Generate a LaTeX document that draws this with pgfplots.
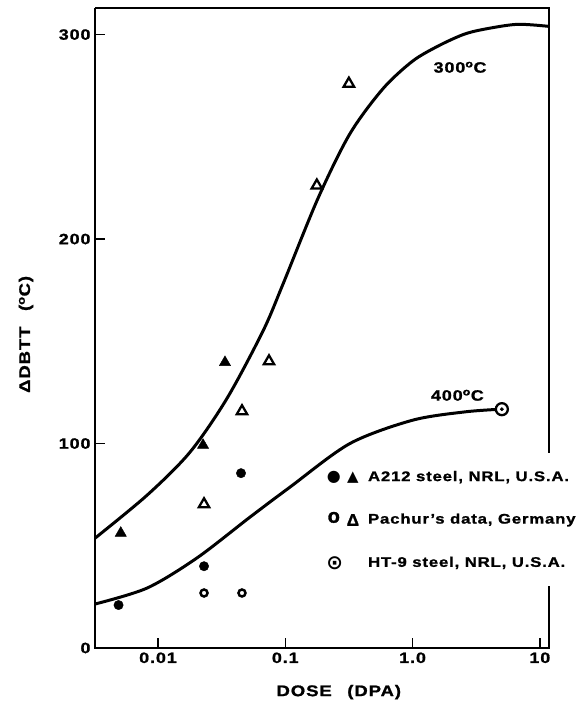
\documentclass[border=0pt]{standalone}
\usepackage{fontspec}
\setmainfont{Liberation Sans}[FakeStretch=1.2, LetterSpace=6, BoldFeatures={FakeBold=1.2}]
\newfontfamily\sym{DejaVu Sans}
\newfontfamily\plainsans{Liberation Sans}[BoldFeatures={FakeBold=1.5}]
\usepackage{pgfplots}
\pgfplotsset{compat=1.18}
\begin{document}
\begin{tikzpicture}
\path[use as bounding box] (0,0) rectangle (583bp,706bp);
\begin{axis}[
  at={(95bp,58bp)}, anchor=south west,
  width=454bp, height=640bp, scale only axis,
  xmode=log, xmin=0.0032, xmax=11.8, ymin=0, ymax=313,
  axis line style={draw=none},
  xtick={0.01,0.1,1,10}, xticklabels={0.01,0.1,1.0,10},
  ytick={0,100,200,300}, yticklabels={0,100,200,300},
  xminorticks=false, yminorticks=false,
  xtick pos=left, ytick pos=left,
  tick align=inside, major tick length=10bp,
  tick style={line width=1.4pt, black},
  tick label style={font=\bfseries\fontsize{15}{17}\selectfont},
  xticklabel style={yshift=-1bp},
  yticklabel style={xshift=-1bp},
  xlabel={DOSE\quad(DPA)},
  ylabel={ΔDBTT\quad(\textsuperscript{o}C)},
  label style={font=\bfseries\fontsize{15.5}{17}\selectfont},
  xlabel style={at={(axis description cs:0.537,-0.069)}, anchor=center},
  ylabel style={at={(axis description cs:-0.152,0.49)}, anchor=center},
  clip=false,
]
\draw[line width=2pt] (rel axis cs:0,1) -- (rel axis cs:0,0) -- (rel axis cs:1,0) -- (rel axis cs:1,0.097);
\draw[line width=1.4pt] (rel axis cs:1,0.305) -- (rel axis cs:1,1) -- (rel axis cs:0,1);

% 300 C curve
\addplot[line width=3pt, smooth, no marks] coordinates {
(0.0032,53.7) (0.0082,74.7) (0.0178,95.7) (0.0348,122) (0.0668,155)
(0.096,178) (0.181,220) (0.322,251.5) (0.585,273.5) (1.0,287) (1.6,294.5)
(2.5,300) (3.57,302.5) (6.6,305) (11.8,304)};
% 400 C curve
\addplot[line width=3pt, smooth, no marks] coordinates {
(0.0032,21.5) (0.0082,29.3) (0.0202,44) (0.0528,64) (0.109,78.7)
(0.322,100) (1.0,111.4) (2.6,115.5) (5.03,116.8)};

% A212 steel 300 C (filled triangles)
\addplot[only marks, mark=triangle*, mark size=6.5bp, black] coordinates {
(0.0051,56.2) (0.0226,99.2) (0.0336,139.7)};
% Pachur 300 C (open triangles)
\addplot[only marks, mark=triangle*, mark size=6bp, line width=2.3pt, draw=black, fill=white] coordinates {
(0.0230,70.3) (0.0457,115.8) (0.0745,140.2) (0.177,226.2) (0.316,276)};
% A212 steel 400 C (filled circles)
\addplot[only marks, mark=*, mark size=4.7bp, black] coordinates {
(0.0049,21) (0.023,40) (0.0449,85.5)};
% Pachur 400 C (open circles)
\addplot[only marks, mark=*, mark size=3.5bp, line width=2.5pt, draw=black, fill=white] coordinates {
(0.023,26.9) (0.0457,26.9)};
% HT-9 steel (double circle)
\addplot[only marks, mark=*, mark size=6bp, line width=2.3pt, draw=black, fill=white] coordinates {
(5.03,116.8)};
\addplot[only marks, mark=*, mark size=1.7bp, black] coordinates {
(5.03,116.8)};

\node[font=\bfseries\fontsize{15}{17}\selectfont] at (axis cs:2.36,284) {300\textsuperscript{o}C};
\node[font=\bfseries\fontsize{15}{17}\selectfont] at (axis cs:2.25,123.6) {400\textsuperscript{o}C};

% legend
\node[font=\sym\fontsize{16}{16}\selectfont] at (rel axis cs:0.526,0.267) {●};
\node[font=\sym\fontsize{15}{16}\selectfont] at (rel axis cs:0.568,0.267) {▲};
\node[font=\plainsans\bfseries\fontsize{20}{20}\selectfont] at (rel axis cs:0.526,0.204) {o};
\node[font=\plainsans\bfseries\fontsize{17}{18}\selectfont] at (rel axis cs:0.568,0.200) {Δ};
\node[font=\sym\bfseries\fontsize{20}{20}\selectfont] at (rel axis cs:0.528,0.133) {⊙};
\node[anchor=west, font=\bfseries\fontsize{14}{16}\selectfont, inner sep=0pt] at (rel axis cs:0.601,0.267) {A212 steel, NRL, U.S.A.};
\node[anchor=west, font=\bfseries\fontsize{14}{16}\selectfont, inner sep=0pt] at (rel axis cs:0.601,0.200) {Pachur's data, Germany};
\node[anchor=west, font=\bfseries\fontsize{14}{16}\selectfont, inner sep=0pt] at (rel axis cs:0.601,0.133) {HT-9 steel, NRL, U.S.A.};
\end{axis}
\end{tikzpicture}
\end{document}
